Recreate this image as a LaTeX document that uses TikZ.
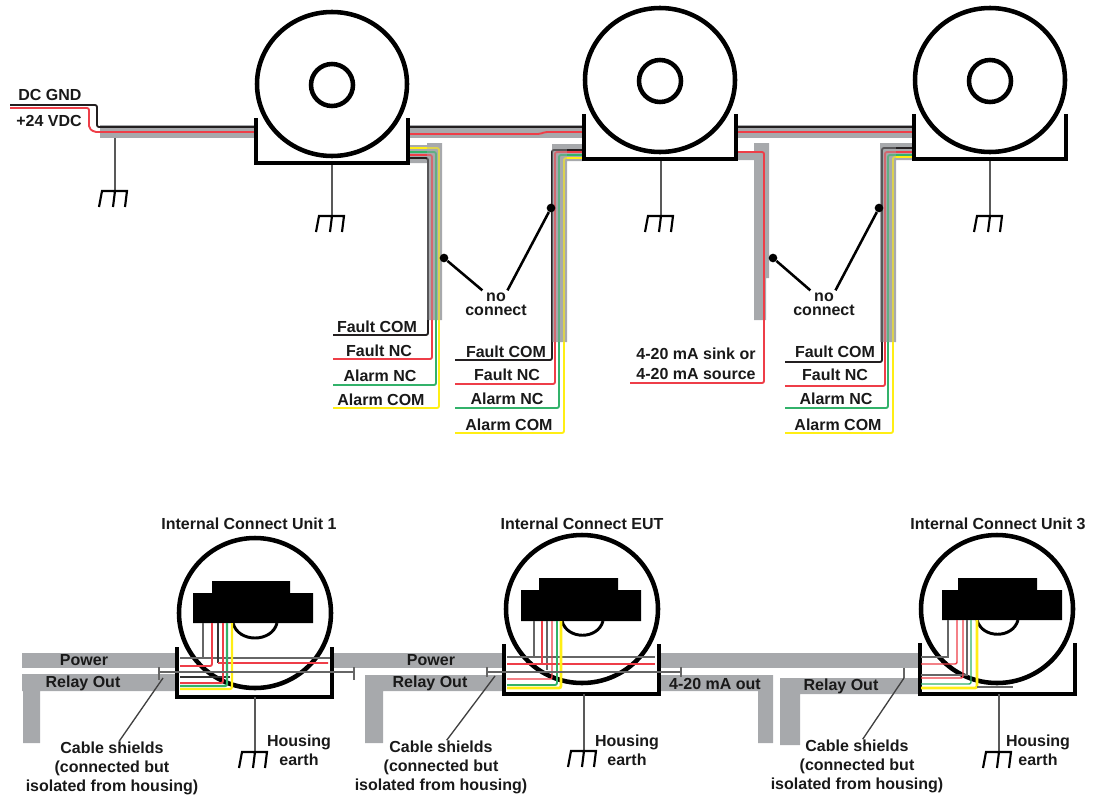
\documentclass[tikz,border=0pt]{standalone}
\usepackage{fontspec}
\setmainfont{Liberation Sans}
\definecolor{cablegrey}{RGB}{167,169,172}
\definecolor{wirered}{RGB}{238,62,72}
\definecolor{wiregreen}{RGB}{50,178,106}
\definecolor{wireyellow}{RGB}{255,238,20}
\definecolor{wireblack}{RGB}{35,31,32}
\tikzset{
  wire/.style={line width=1.4pt,rounded corners=1.5pt},
  blackwire/.style={wire,color=wireblack},
  redwire/.style={wire,color=wirered},
  greenwire/.style={wire,color=wiregreen},
  yellowwire/.style={wire,color=wireyellow},
  housing/.style={line width=3.4pt,line join=miter},
  stem/.style={line width=1pt,color=black!65},
  blob/.style={fill=black},
  label/.style={inner sep=0pt,font=\fontsize{12}{14.25}\selectfont\bfseries,align=center,text=black!90},
  nolabel/.style={inner sep=1.5pt,font=\fontsize{12}{10.5}\selectfont\bfseries,align=center,text=black!90},
  dotnode/.style={circle,fill=black,inner sep=0pt,minimum size=6.5pt},
  leader/.style={line width=1.9pt,color=black},
  shieldline/.style={line width=1pt,color=black!60},
  earth/.pic={
    \draw[line width=1.6pt,color=black] (-16,-16) -- (-13,0) -- (12,0) -- (10,-16) (0,0) -- (-2,-16);
  }
}

\begin{document}
\begin{tikzpicture}[x=0.75pt,y=0.75pt,yscale=-1,xscale=1]
\useasboundingbox (0,0) rectangle (1098,799);

%Power cable, top row
\fill [cablegrey] (100,125) rectangle (914,138);
\fill [cablegrey] (408,145) rectangle (441,163) (427,143) rectangle (442,320);
\fill [cablegrey] (552,144) rectangle (583,161) (552,144) rectangle (567,342);
\fill [cablegrey] (737,152) rectangle (766,160) (754,143) rectangle (766,320) (766,143) rectangle (769,278);
\fill [cablegrey] (880,143) rectangle (914,160) (880,143) rectangle (896,342);

%Power wires
\draw [blackwire] (10,105) -- (97,105) -- (97,127) -- (914,127);
\draw [redwire] (10,108) -- (89,108) -- (89,128) -- (94,132) -- (256,132) (408,134) -- (540,134) -- (545,132) -- (914,132);

%Relay wires, unit 1
\draw [blackwire] (408,158) -- (428,158) -- (428,335) -- (333,335);
\draw [redwire] (408,155) -- (432,155) -- (432,359) -- (333,359);
\draw [greenwire] (408,152) -- (436,152) -- (436,385) -- (333,385);
\draw [yellowwire] (408,148) -- (439,148) -- (439,408) -- (333,408);
%Relay wires, unit 2
\draw [blackwire] (583,150) -- (552,150) -- (552,360) -- (455,360);
\draw [redwire] (583,152) -- (555,152) -- (555,384) -- (455,384);
\draw [greenwire] (583,155) -- (559,155) -- (559,408) -- (455,408);
\draw [yellowwire] (583,158) -- (564,158) -- (564,433) -- (455,433);
\draw [redwire] (737,152) -- (764,152) -- (764,383) -- (630,383);
%Relay wires, unit 3
\draw [blackwire] (914,148) -- (882,148) -- (882,362) -- (785,362);
\draw [redwire] (914,152) -- (885,152) -- (885,386) -- (785,386);
\draw [greenwire] (914,155) -- (888,155) -- (888,408) -- (785,408);
\draw [yellowwire] (914,157) -- (893,157) -- (893,433) -- (785,433);

%Shield sleeves over the wires
\fill [cablegrey,opacity=0.4] (427,143) rectangle (442,320);
\fill [cablegrey,opacity=0.4] (552,144) rectangle (567,342);
\fill [cablegrey,opacity=0.4] (880,143) rectangle (896,342);

%Sensors, top row
\foreach \ux/\uy/\ut in {332/84/118,660/80/114,990/80/114}{
  \fill [white] ({\ux-76},\ut) rectangle ({\ux+76},{\ut+45});
  \draw [housing] ({\ux-76},\ut) -- ({\ux-76},{\ut+45}) -- ({\ux+76},{\ut+45}) -- ({\ux+76},\ut);
  \draw [housing,fill=white] (\ux,\uy) ellipse (75 and 72);
  \draw [housing] (\ux,{\uy+1}) circle (21);
}

%Earths, top row
\foreach \gx/\gt/\gy in {115/138/191,332/165/216,661/161/216,990/161/216}{
  \draw [stem] (\gx,\gt) -- (\gx,\gy);
  \pic at (\gx,\gy) {earth};
}

% Text Node
\node [label] (dcgnd) at (50,95) {DC GND};
\node [label] (vdc) at (49,121) {+24 VDC};
\node [label] (faultcomA) at (377,327) {Fault COM};
\node [label] (faultncA) at (379,351) {Fault NC};
\node [label] (alarmncA) at (380,376) {Alarm NC};
\node [label] (alarmcomA) at (381,400) {Alarm COM};
\node [label] (faultcomB) at (506,352) {Fault COM};
\node [label] (faultncB) at (507,375) {Fault NC};
\node [label] (alarmncB) at (507,399) {Alarm NC};
\node [label] (alarmcomB) at (509,425) {Alarm COM};
\node [label,font=\fontsize{12}{15}\selectfont\bfseries] (milliamp) at (696,364) {4-20 mA sink or\\4-20 mA source};
\node [label] (faultcomC) at (835,352) {Fault COM};
\node [label] (faultncC) at (835,375) {Fault NC};
\node [label] (alarmncC) at (836,399) {Alarm NC};
\node [label] (alarmcomC) at (838,425) {Alarm COM};

%No connect callouts
\node [nolabel] (noconnA) at (496,304) {no\\connect};
\node [dotnode] (dotA) at (444,258) {};
\node [dotnode] (dotB) at (551,208) {};
\draw [leader] (dotA) -- (noconnA.135);
\draw [leader] (dotB) -- (noconnA.50);
\node [nolabel] (noconnB) at (824,304) {no\\connect};
\node [dotnode] (dotC) at (773,258) {};
\node [dotnode] (dotD) at (879,208) {};
\draw [leader] (dotC) -- (noconnB.135);
\draw [leader] (dotD) -- (noconnB.50);

%Cables, bottom row
\fill [cablegrey] (22,653) rectangle (920,668);
\fill [cablegrey] (22,674) rectangle (177,691) (23,691) rectangle (40,743);
\fill [cablegrey] (365,675) rectangle (504,691) (365,691) rectangle (383,743);
\fill [cablegrey] (659,675) rectangle (773,691) (758,691) rectangle (773,743);
\fill [cablegrey] (780,678) rectangle (920,694) (780,694) rectangle (800,745);

%Sensor 1, bottom row
\fill [white] (177,647) rectangle (332,697);
\draw [housing] (177,647) -- (177,697) -- (332,697) -- (332,647);
\draw [housing] (255,613) ellipse (76 and 75);
\fill [blob] (193,593) -- (212,593) -- (212,581) -- (290,581) -- (290,593) -- (313,593) -- (313,623) -- (193,623) -- cycle;
\draw [line width=2.2pt] (233,623) .. controls (238,643) and (272,643) .. (277,623);
\draw [shieldline] (203,623) -- (203,658) (180,658) -- (330,658);
\draw [shieldline,color=black!80] (218,623) -- (218,663) (180,677) -- (230,677);
\draw [redwire] (212,623) -- (212,666) -- (180,666) (218,663) -- (328,663);
\draw [redwire] (223,623) -- (223,683) -- (180,683);
\draw [greenwire,line width=1.6pt] (227,623) -- (227,686) -- (180,686);
\draw [yellowwire,line width=1.6pt] (232,623) -- (232,689) -- (180,689);

%Sensor 2, bottom row
\fill [white] (504,644) rectangle (659,694);
\draw [housing] (504,644) -- (504,694) -- (659,694) -- (659,644);
\draw [housing] (582,609) ellipse (76 and 74);
\fill [blob] (521,590) -- (539,590) -- (539,578) -- (618,578) -- (618,590) -- (641,590) -- (641,621) -- (521,621) -- cycle;
\draw [line width=2.2pt] (562,621) .. controls (567,640) and (598,640) .. (603,621);
\draw [shieldline] (534,621) -- (534,657) (507,657) -- (655,657);
\draw [shieldline] (547,621) -- (547,670);
\draw [redwire,line width=1.1pt] (542,621) -- (542,664) (507,664) -- (655,664);
\draw [redwire,line width=1.1pt] (552,621) -- (552,679) -- (507,679);
\draw [greenwire,line width=1.4pt] (557,621) -- (557,685) -- (507,685);
\draw [yellowwire,line width=2pt] (561,621) -- (561,688) -- (507,688);

%Sensor 3, bottom row
\fill [white] (920,643) rectangle (1075,694);
\draw [housing] (920,643) -- (920,694) -- (1075,694) -- (1075,643);
\draw [housing] (997,609) ellipse (76 and 74);
\fill [blob] (942,590) -- (958,590) -- (958,578) -- (1037,578) -- (1037,590) -- (1062,590) -- (1062,620) -- (942,620) -- cycle;
\draw [line width=2.2pt] (977,620) .. controls (982,639) and (1013,639) .. (1018,620);
\draw [shieldline] (948,620) -- (948,657) -- (921,657);
\draw [shieldline] (967,620) -- (967,675) -- (921,675);
\draw [redwire,line width=1.1pt] (957,620) -- (957,664) -- (921,664);
\draw [redwire,line width=1.1pt] (963,620) -- (963,678) -- (921,678);
\draw [greenwire,line width=1.1pt] (971,620) -- (971,684) -- (921,684);
\draw [yellowwire,line width=2pt] (977,620) -- (977,688) -- (921,688);
\draw [shieldline] (977,687) -- (1013,687);

%Shield lines
\draw [shieldline] (159,667) -- (159,680) (159,672) -- (354,672) (354,667) -- (354,680);
\draw [shieldline] (487,667) -- (487,677) (487,672) -- (681,672) (681,667) -- (681,677);
\draw [shieldline] (904,668) -- (904,678);

%Earths, bottom row
\foreach \gx/\gt/\gy in {255/697/752,584/694/751,999/694/752}{
  \draw [stem,line width=1.2pt] (\gx,\gt) -- (\gx,\gy);
  \pic at (\gx,\gy) {earth};
}

% Text Node
\node [label] (titleA) at (249,524) {Internal Connect Unit 1};
\node [label] (titleB) at (582,524) {Internal Connect EUT};
\node [label] (titleC) at (998,524) {Internal Connect Unit 3};
\node [label] (powerA) at (84,660) {Power};
\node [label] (relayA) at (83,683) {Relay Out};
\node [label] (powerB) at (431,660) {Power};
\node [label] (relayB) at (430,683) {Relay Out};
\node [label] (milliout) at (715,684) {4-20 mA out};
\node [label] (relayC) at (841,686) {Relay Out};
\node [label] (shieldA) at (112,768) {Cable shields\\(connected but\\isolated from housing)};
\node [label] (shieldB) at (441,767) {Cable shields\\(connected but\\isolated from housing)};
\node [label] (shieldC) at (857,766) {Cable shields\\(connected but\\isolated from housing)};
\node [label] (earthA) at (299,750) {Housing\\earth};
\node [label] (earthB) at (627,750) {Housing\\earth};
\node [label] (earthC) at (1038,750) {Housing\\earth};

%Shield callouts
\coordinate (tickA) at (163,678);
\coordinate (tickB) at (495,676);
\coordinate (tickC) at (904,678);
\draw [shieldline,color=black!75] (tickA) -- (shieldA.75);
\draw [shieldline,color=black!75] (tickB) -- (shieldB.78);
\draw [shieldline,color=black!75] (tickC) -- (shieldC.78);
\end{tikzpicture}
\end{document}
